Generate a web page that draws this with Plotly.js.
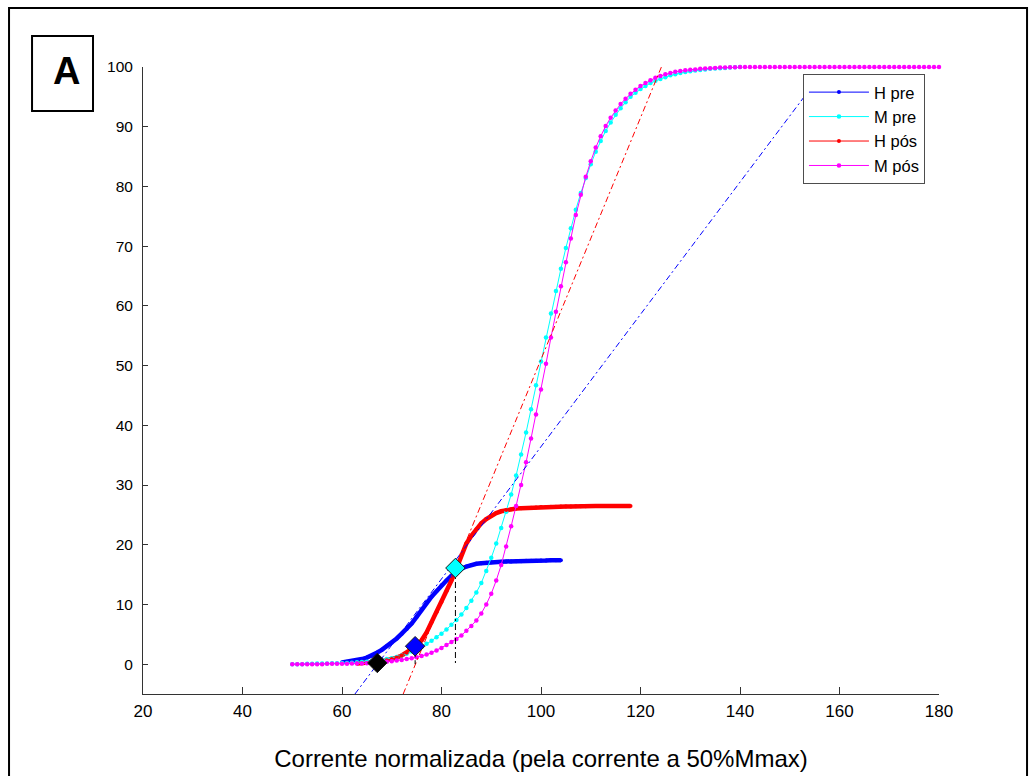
<!DOCTYPE html>
<html>
<head>
<meta charset="utf-8">
<script src="https://cdn.plot.ly/plotly-3.0.1.min.js"></script>
<style>
  html, body { margin: 0; padding: 0; background: #fff; }
  #chart { width: 1035px; height: 776px; }
</style>
</head>
<body>
<div id="chart"></div>
<script>
// Normalised current grid (x), 50 .. 180 in steps of 1
const currentGrid = [
  50,51,52,53,54,55,56,57,58,59,60,61,62,63,64,65,66,67,68,69,
  70,71,72,73,74,75,76,77,78,79,80,81,82,83,84,85,86,87,88,89,
  90,91,92,93,94,95,96,97,98,99,100,101,102,103,104,105,106,107,108,109,
  110,111,112,113,114,115,116,117,118,119,120,121,122,123,124,125,126,127,128,129,
  130,131,132,133,134,135,136,137,138,139,140,141,142,143,144,145,146,147,148,149,
  150,151,152,153,154,155,156,157,158,159,160,161,162,163,164,165,166,167,168,169,
  170,171,172,173,174,175,176,177,178,179,180
];

// H pre (x 60..104)
const hPreX = currentGrid.slice(10, 55);
const hPreY = [
  0.3,0.4,0.5,0.65,0.85,1.1,1.4,1.9,2.4,3.0,
  3.6,4.3,5.1,5.9,6.8,7.9,9.1,10.3,11.3,12.2,
  13.2,14.0,14.8,15.5,16.0,16.35,16.6,16.8,16.9,17.0,
  17.05,17.1,17.15,17.2,17.2,17.25,17.25,17.3,17.3,17.3,
  17.35,17.35,17.4,17.4,17.4
];

// H pós (x 63..118)
const hPosX = currentGrid.slice(13, 69);
const hPosY = [
  0.1,0.15,0.2,0.3,0.4,0.5,0.65,
  0.85,1.1,1.45,1.9,2.5,3.2,4.0,5.3,7.0,8.7,
  10.4,12.2,14.0,16.0,18.3,20.2,21.5,22.6,23.6,24.3,
  24.9,25.3,25.6,25.8,25.95,26.05,26.1,26.15,26.2,26.25,
  26.3,26.3,26.35,26.35,26.4,26.4,26.4,26.45,26.45,26.45,
  26.5,26.5,26.5,26.5,26.5,26.5,26.5,26.5,26.5
];

// M pre (x 50..140)
const mPreX = currentGrid.slice(0, 91);
const mPreY = [
  0,0,0,0.05,0.05,0.1,0.1,0.1,0.15,0.15,
  0.2,0.2,0.25,0.3,0.35,0.4,0.5,0.6,0.7,0.85,
  1.0,1.2,1.45,1.75,2.1,2.5,2.9,3.4,3.9,4.5,
  5.1,5.8,6.6,7.4,8.3,9.4,10.6,12.0,13.6,15.6,
  17.8,20.2,22.8,25.5,28.4,31.6,35.1,38.8,42.7,46.7,
  50.7,54.7,58.7,62.5,66.2,69.7,73.0,76.1,78.9,81.4,
  83.7,85.8,87.6,89.3,90.7,92.0,93.1,94.1,95.0,95.7,
  96.3,96.8,97.3,97.7,98.0,98.3,98.6,98.8,99.0,99.15,
  99.3,99.4,99.5,99.6,99.7,99.75,99.8,99.85,99.9,99.95,
  100
];

// M pós (x 50..180)
const mPosX = currentGrid.slice(0);
const mPosY = [
  0,0,0,0,0,0,0,0.05,0.05,0.05,
  0.05,0.05,0.1,0.1,0.1,0.15,0.2,0.25,0.3,0.4,
  0.5,0.6,0.7,0.85,1.0,1.15,1.35,1.6,1.9,2.3,
  2.7,3.2,3.7,4.2,4.8,5.6,6.4,7.3,8.5,10.0,
  11.8,14.0,16.6,19.7,23.1,26.5,30.0,33.8,37.8,41.8,
  46.0,50.3,54.7,59.0,63.3,67.3,71.3,75.2,78.6,81.6,
  84.2,86.5,88.4,90.1,91.5,92.7,93.8,94.7,95.5,96.2,
  96.8,97.3,97.8,98.2,98.5,98.8,99.0,99.2,99.35,99.45,
  99.55,99.6,99.7,99.75,99.8,99.85,99.9,99.9,99.95,99.95,
  100,100,100,100,100,100,100,100,100,100,
  100,100,100,100,100,100,100,100,100,100,
  100,100,100,100,100,100,100,100,100,100,
  100,100,100,100,100,100,100,100,100,100,
  100
];

// Tangent (dash-dot) lines
const hPreTangentX = [62.6, 155.6];
const hPreTangentY = [-5, 98];
const hPosTangentX = [72.3, 124.2];
const hPosTangentY = [-5, 100];

// Threshold drop lines
const dropX = [82.8, 82.8, null, 74.7, 74.7];
const dropY = [16.1, 0, null, 3.0, 0];

// Threshold diamonds
const diamondX = [67.1, 74.7, 82.8];
const diamondY = [0.2, 3.0, 16.1];
const diamondColors = ['#000000', '#0000ff', '#00ffff'];

// Axis ticks
const xTicks = [20, 40, 60, 80, 100, 120, 140, 160, 180];
const yTicks = [0, 10, 20, 30, 40, 50, 60, 70, 80, 90, 100];

const FONT = '"Liberation Sans", Arial, Helvetica, sans-serif';
const BLUE = '#0000ff', CYAN = '#00ffff', RED = '#ff0000', MAG = '#ff00ff';

const traces = [
  { x: hPreX, y: hPreY, mode: 'lines', line: { color: BLUE, width: 4.5 },
    showlegend: false, hoverinfo: 'skip' },
  { x: hPosX, y: hPosY, mode: 'lines', line: { color: RED, width: 4.5 },
    showlegend: false, hoverinfo: 'skip' },
  { x: hPreX, y: hPreY, name: 'H pre', mode: 'lines+markers',
    line: { color: BLUE, width: 1 }, marker: { color: BLUE, size: 4 }, cliponaxis: false },
  { x: mPreX, y: mPreY, name: 'M pre', mode: 'lines+markers',
    line: { color: CYAN, width: 1 }, marker: { color: CYAN, size: 4.5 }, cliponaxis: false },
  { x: hPosX, y: hPosY, name: 'H pós', mode: 'lines+markers',
    line: { color: RED, width: 1 }, marker: { color: RED, size: 4 }, cliponaxis: false },
  { x: mPosX, y: mPosY, name: 'M pós', mode: 'lines+markers',
    line: { color: MAG, width: 1 }, marker: { color: MAG, size: 4.5 }, cliponaxis: false },
  { x: hPreTangentX, y: hPreTangentY, mode: 'lines', showlegend: false,
    line: { color: BLUE, width: 1, dash: '6px,3px,2px,3px' }, hoverinfo: 'skip' },
  { x: hPosTangentX, y: hPosTangentY, mode: 'lines', showlegend: false,
    line: { color: RED, width: 1, dash: '6px,3px,2px,3px' }, hoverinfo: 'skip' },
  { x: dropX, y: dropY, mode: 'lines', showlegend: false,
    line: { color: '#000000', width: 1, dash: '6px,3px,2px,3px' }, hoverinfo: 'skip' },
  { x: diamondX, y: diamondY, mode: 'markers', showlegend: false,
    marker: { symbol: 'diamond', size: 15, color: diamondColors,
              line: { color: '#1a1a1a', width: 1 } }, cliponaxis: false }
];

const layout = {
  width: 1035, height: 776,
  margin: { l: 143, r: 96, t: 67, b: 82, pad: 0 },
  paper_bgcolor: '#ffffff', plot_bgcolor: '#ffffff',
  font: { family: FONT, color: '#000000', size: 15 },
  showlegend: true,
  legend: {
    x: 0.8291, y: 0.989, xanchor: 'left', yanchor: 'top',
    bgcolor: '#ffffff', bordercolor: '#4d4d4d', borderwidth: 1,
    font: { family: FONT, size: 16.5, color: '#000000' },
    itemwidth: 60, tracegroupgap: 0
  },
  xaxis: {
    range: [20, 180], tickvals: xTicks, ticktext: xTicks.map(String),
    ticks: 'inside', ticklen: 7, tickcolor: '#333333', tickwidth: 1,
    showline: true, linecolor: '#333333', linewidth: 1, mirror: false,
    showgrid: false, zeroline: false, ticklabelstandoff: 2,
    tickfont: { family: FONT, size: 17, color: '#000000' },
    title: { text: 'Corrente normalizada (pela corrente a 50%Mmax)',
             font: { family: FONT, size: 24, color: '#000000' }, standoff: 29 }
  },
  yaxis: {
    range: [-5, 100], tickvals: yTicks, ticktext: yTicks.map(String),
    ticks: 'inside', ticklen: 5, tickcolor: '#333333', tickwidth: 1,
    showline: true, linecolor: '#333333', linewidth: 1, mirror: false,
    showgrid: false, zeroline: false, ticklabelstandoff: 6,
    tickfont: { family: FONT, size: 15.5, color: '#000000' }
  },
  shapes: [
    { type: 'rect', xref: 'paper', yref: 'paper',
      x0: -0.1683, x1: 1.1106, y0: -0.16, y1: 1.0941,
      line: { color: '#000000', width: 2 }, fillcolor: 'rgba(0,0,0,0)' },
    { type: 'rect', xref: 'paper', yref: 'paper',
      x0: -0.1394, x1: -0.0628, y0: 0.9298, y1: 1.0494,
      line: { color: '#000000', width: 2 }, fillcolor: '#ffffff' }
  ],
  annotations: [
    { text: '<b>A</b>', xref: 'paper', yref: 'paper',
      x: -0.0955, y: 0.9936, xanchor: 'center', yanchor: 'middle',
      showarrow: false, font: { family: FONT, size: 38, color: '#000000' } }
  ]
};

Plotly.newPlot('chart', traces, layout, { displayModeBar: false, staticPlot: true });
</script>
</body>
</html>
